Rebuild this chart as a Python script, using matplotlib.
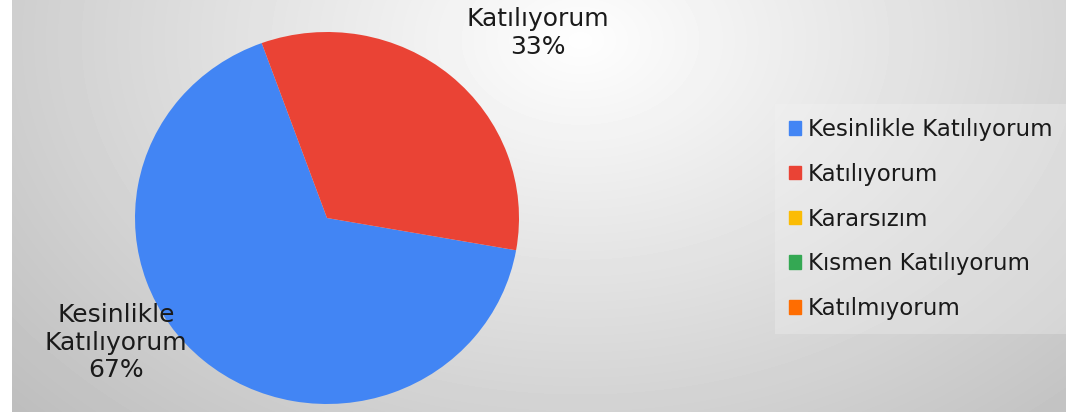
import matplotlib
matplotlib.use("Agg")
import matplotlib.pyplot as plt
import matplotlib.patches as mpatches
import numpy as np

# veriler
kategoriler = ["Kesinlikle Katılıyorum", "Katılıyorum", "Kararsızım",
               "Kısmen Katılıyorum", "Katılmıyorum"]
degerler = [66.7, 33.3, 0, 0, 0]
renkler = ["#4285F4", "#EA4335", "#FBBC04", "#34A853", "#FF6D01"]
etiketler = ["Kesinlikle\nKatılıyorum\n67%", "Katılıyorum\n33%"]

W, H = 1066, 412
fig = plt.figure(figsize=(W / 100, H / 100), dpi=100, facecolor="white")

# arka plan (radyal gri gecis)
bg = fig.add_axes([12 / W, 0, 1 - 12 / W, 1])
xx, yy = np.meshgrid(np.arange(12, W), np.arange(H))
r = np.sqrt(((xx - 580) / 620.0) ** 2 + ((yy - 40) / 440.0) ** 2)
v = np.clip(254 - 52 * r, 0, 255)
bg.imshow(v, cmap="gray", vmin=0, vmax=255, aspect="auto", interpolation="bilinear")
bg.axis("off")

# pasta
ax = fig.add_axes([135 / W, 8 / H, 384 / W, 372 / H])
dolu = [d for d in degerler if d > 0]
dolu_renk = [renkler[i] for i, d in enumerate(degerler) if d > 0]
ax.pie(dolu, colors=dolu_renk, startangle=-10, counterclock=False,
       wedgeprops=dict(linewidth=0))
ax.set_aspect("auto")
ax.set_xlim(-1, 1)
ax.set_ylim(-1, 1)
ax.axis("off")

yazi = dict(fontsize=18, family="DejaVu Sans", color="#1a1a1a",
            ha="center", va="center", linespacing=1.2)
ax.text(-1.10, -0.67, etiketler[0], clip_on=False, **yazi)
ax.text(1.10, 0.995, etiketler[1], clip_on=False, **yazi)

# lejant
kutular = [mpatches.Patch(color=c, label=k) for c, k in zip(renkler, kategoriler)]
leg = fig.legend(handles=kutular, loc="center left",
                 bbox_to_anchor=(775 / W, (H - 219) / H), borderaxespad=0,
                 frameon=True, fancybox=False, borderpad=0.6,
                 handlelength=0.52, handleheight=0.52, handletextpad=0.3,
                 labelspacing=0.95, prop=dict(family="DejaVu Sans", size=16.5))
leg.get_frame().set_facecolor("#f4f4f4")
leg.get_frame().set_alpha(0.3)
leg.get_frame().set_linewidth(0)
for t in leg.get_texts():
    t.set_color("#1a1a1a")

fig.savefig("out.png", dpi=100)
